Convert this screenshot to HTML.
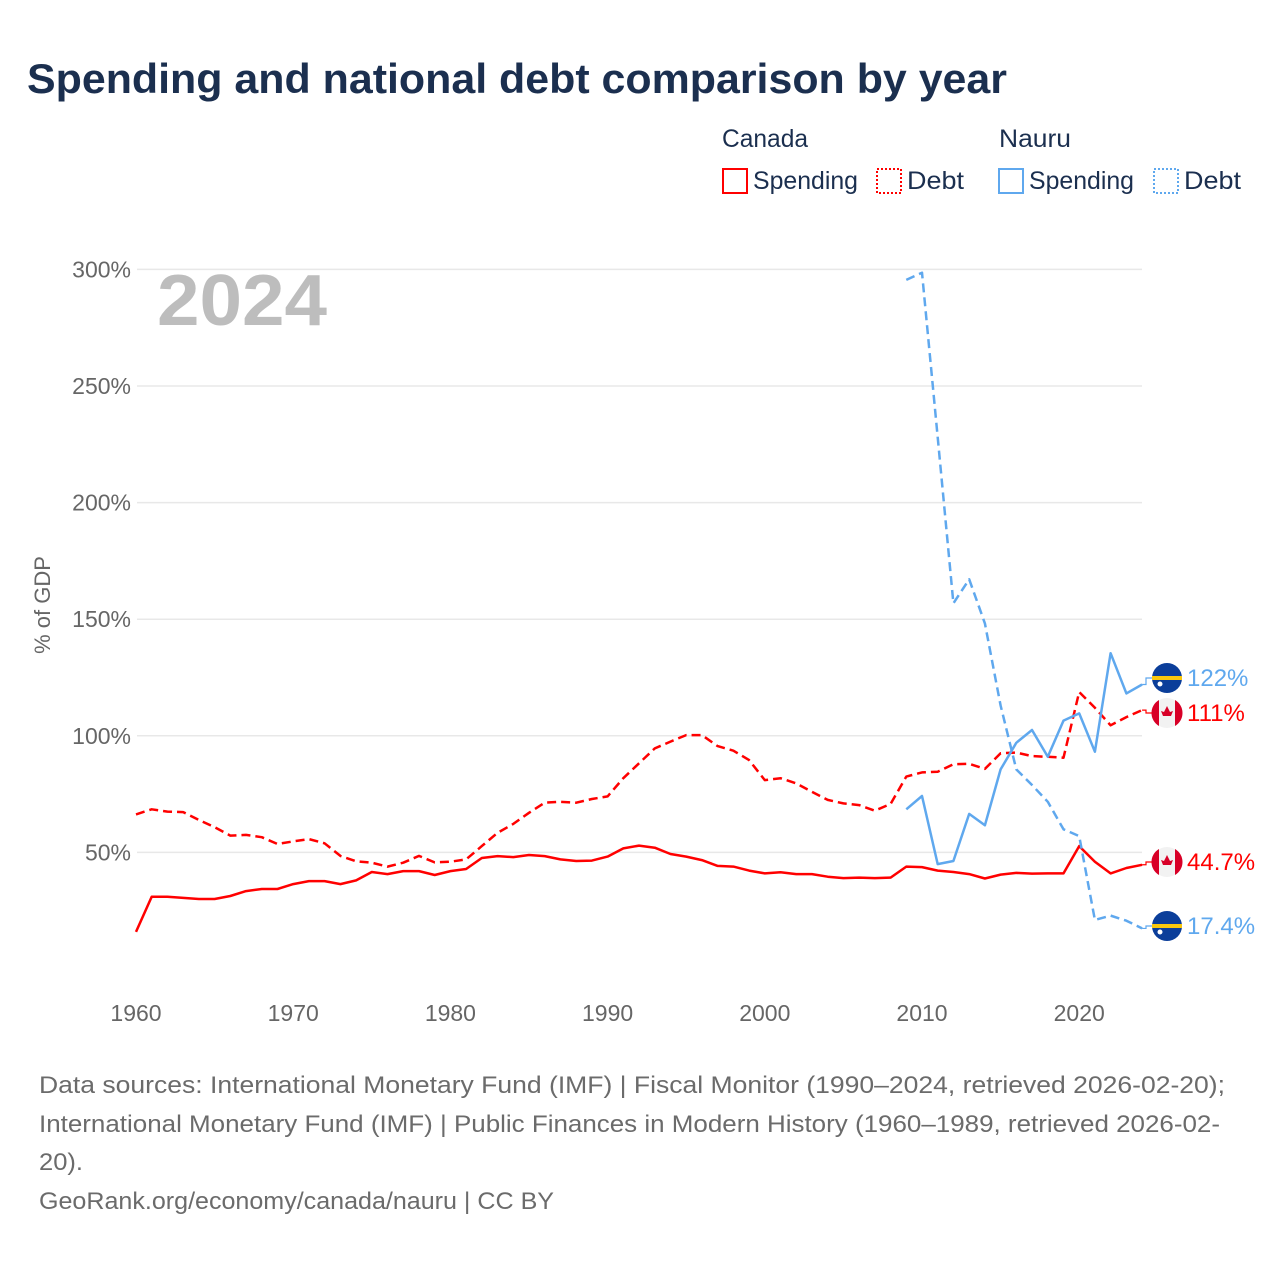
<!DOCTYPE html>
<html><head><meta charset="utf-8"><style>
body{margin:0;background:#fff;}
svg{display:block;font-family:"Liberation Sans",sans-serif;}
</style></head><body>
<svg id="chart" width="1280" height="1280" viewBox="0 0 1280 1280">
<text x="27" y="93" font-size="42" font-weight="bold" fill="#1b2f4f" textLength="980" lengthAdjust="spacingAndGlyphs">Spending and national debt comparison by year</text>
<g font-size="25" fill="#1b2f4f">
<text x="722" y="147" textLength="86" lengthAdjust="spacingAndGlyphs">Canada</text>
<text x="999" y="147" textLength="72" lengthAdjust="spacingAndGlyphs">Nauru</text>
<g><rect x="723" y="169" width="24" height="24" fill="none" stroke="#ff0000" stroke-width="2"/><text x="753" y="189" textLength="105" lengthAdjust="spacingAndGlyphs">Spending</text></g>
<g><rect x="877" y="169" width="24" height="24" fill="none" stroke="#ff0000" stroke-width="2" stroke-dasharray="2,2"/><text x="907" y="189" textLength="57" lengthAdjust="spacingAndGlyphs">Debt</text></g>
<g><rect x="999" y="169" width="24" height="24" fill="none" stroke="#5fa8ee" stroke-width="2"/><text x="1029" y="189" textLength="105" lengthAdjust="spacingAndGlyphs">Spending</text></g>
<g><rect x="1154" y="169" width="24" height="24" fill="none" stroke="#5fa8ee" stroke-width="2" stroke-dasharray="2,2"/><text x="1184" y="189" textLength="57" lengthAdjust="spacingAndGlyphs">Debt</text></g>
</g>
<g id="grid"></g>
<text x="157" y="325" font-size="72" font-weight="bold" fill="#bdbdbd" textLength="170" lengthAdjust="spacingAndGlyphs">2024</text>
<text transform="translate(50,605) rotate(-90)" text-anchor="middle" font-size="22" fill="#666">% of GDP</text>
<g id="series"></g>
<g id="labels"></g>
<g font-size="24" fill="#6b6b6b">
<text x="39" y="1093" textLength="1186" lengthAdjust="spacingAndGlyphs">Data sources: International Monetary Fund (IMF) | Fiscal Monitor (1990–2024, retrieved 2026-02-20);</text>
<text x="39" y="1132" textLength="1181" lengthAdjust="spacingAndGlyphs">International Monetary Fund (IMF) | Public Finances in Modern History (1960–1989, retrieved 2026-02-</text>
<text x="39" y="1170" textLength="44" lengthAdjust="spacingAndGlyphs">20).</text>
<text x="39" y="1209" textLength="515" lengthAdjust="spacingAndGlyphs">GeoRank.org/economy/canada/nauru | CC BY</text>
</g>
</svg>
<script>
const yTicks=[50,100,150,200,250,300];
const xTicks=[1960,1970,1980,1990,2000,2010,2020];
const canadaYears=[];for(let y=1960;y<=2024;y++)canadaYears.push(y);
const nauruYears=[];for(let y=2009;y<=2024;y++)nauruYears.push(y);
const canadaSpending=[15.9,31,31,30.5,30,30,31.3,33.4,34.3,34.3,36.4,37.7,37.7,36.4,38,41.6,40.7,42,42,40.3,42,42.9,47.6,48.4,48,48.9,48.4,47,46.3,46.5,48.2,51.7,52.9,52,49.3,48.2,46.7,44.2,43.9,42.2,41,41.5,40.7,40.7,39.6,39,39.2,39,39.2,43.9,43.7,42.2,41.6,40.7,38.8,40.5,41.2,40.9,41,41,52.7,46,41,43.3,44.7];
const canadaDebt=[66.3,68.5,67.5,67.3,63.9,60.8,57.2,57.5,56.5,53.6,54.7,55.7,53.9,48.5,46.2,45.6,43.9,45.6,48.5,45.7,46,47,52.7,58.4,62.2,67,71.3,71.7,71.3,72.9,74,81.8,88.2,94.6,97.5,100.3,100.3,95.6,93.6,89.6,81,81.8,79.6,76,72.5,71,70.3,67.9,70.8,82.5,84.3,84.6,87.8,88,85.8,92.5,92.8,91.3,91,90.6,118.8,112,104.5,108,111];
const nauruSpending=[68.5,74.2,45,46.3,66.5,61.6,85.6,97,102.5,91,106.5,109.6,93.2,135.4,118.2,122];
const nauruDebt=[295.5,298.6,228,156.8,167.1,148.2,113,85.6,78.9,71.7,59.9,57,21,22.9,20.7,17.4];
const endLabels=["122%","111%","44.7%","17.4%"];

const NS="http://www.w3.org/2000/svg";
const X0=136,XR=15.72,Y0=969,YR=2.332;
const xs=y=>X0+(y-1960)*XR;
const ys=v=>Y0-v*YR;
function el(t,a,p){const e=document.createElementNS(NS,t);for(const k in a)e.setAttribute(k,a[k]);p.appendChild(e);return e;}
const grid=document.getElementById('grid');
yTicks.forEach(v=>{
  const l=el('line',{x1:137,x2:1142,y1:ys(v),y2:ys(v),stroke:'#e8e8e8','stroke-width':1.5},grid);
  
  
  const t=el('text',{x:131,y:ys(v)+8,'text-anchor':'end','font-size':23,fill:'#666'},grid);
  t.textContent=v+'%';
  
  
});
xTicks.forEach(y=>{
  const t=el('text',{x:xs(y),y:1021,'text-anchor':'middle','font-size':23,fill:'#666'},grid);
  t.textContent=y;
  
  
});
const S=document.getElementById('series');
function line(years,vals,color,dash,name){
  const d=vals.map((v,i)=>(i?'L':'M')+xs(years[i]).toFixed(1)+','+ys(v).toFixed(1)).join('');
  const p=el('path',{d:d,fill:'none',stroke:color,'stroke-width':2.5,'stroke-linejoin':'round'},S);
  if(dash)p.setAttribute('stroke-dasharray','9,5');
  
  
}
line(canadaYears,canadaDebt,'#ff0000',true,'canada-debt-line');
line(canadaYears,canadaSpending,'#ff0000',false,'canada-spending-line');
line(nauruYears,nauruDebt,'#5fa8ee',true,'nauru-debt-line');
line(nauruYears,nauruSpending,'#5fa8ee',false,'nauru-spending-line');

const L=document.getElementById('labels');
const ends=[
 {v:nauruSpending[nauruSpending.length-1],c:'#5fa8ee',f:'nauru',n:'nauru-spending'},
 {v:canadaDebt[canadaDebt.length-1],c:'#ff0000',f:'canada',n:'canada-debt'},
 {v:canadaSpending[canadaSpending.length-1],c:'#ff0000',f:'canada',n:'canada-spending'},
 {v:nauruDebt[nauruDebt.length-1],c:'#5fa8ee',f:'nauru',n:'nauru-debt'}];
const labelY=[678,713,862,926];
ends.forEach((e,i)=>{
  const cy=labelY[i];
  const g=el('g',{},L);
  
  
  el('polyline',{points:`${xs(2024)},${ys(e.v)} 1146,${ys(e.v)} 1146,${cy} 1152,${cy}`,fill:'none',stroke:e.c,'stroke-width':1.2},g);
  if(e.f==='nauru'){
    el('circle',{cx:1167,cy:cy,r:15,fill:'#0b3e9a'},g);
    el('rect',{x:1152,y:cy-2,width:30,height:4,fill:'#f9c80e'},g);
    el('circle',{cx:1160,cy:cy+6,r:2.5,fill:'#fff'},g);
  }else{
    el('circle',{cx:1167,cy:cy,r:15,fill:'#f2f2f2'},g);
    el('path',{d:`M1159,${cy-13}A15,15 0 0 0 1159,${cy+13}Z`,fill:'#d80027'},g);
    el('path',{d:`M1175,${cy-13}A15,15 0 0 1 1175,${cy+13}Z`,fill:'#d80027'},g);
    el('path',{d:`M1167,${cy-7}L1170,${cy-1}L1173,${cy-2}L1171,${cy+3}L1167,${cy+3}L1163,${cy+3}L1161,${cy-2}L1164,${cy-1}Z`,fill:'#d80027'},g);
  }
  const t=el('text',{x:1187,y:cy+8,'font-size':24,fill:e.c},g);
  t.textContent=endLabels[i];
});
</script>
</body></html>
